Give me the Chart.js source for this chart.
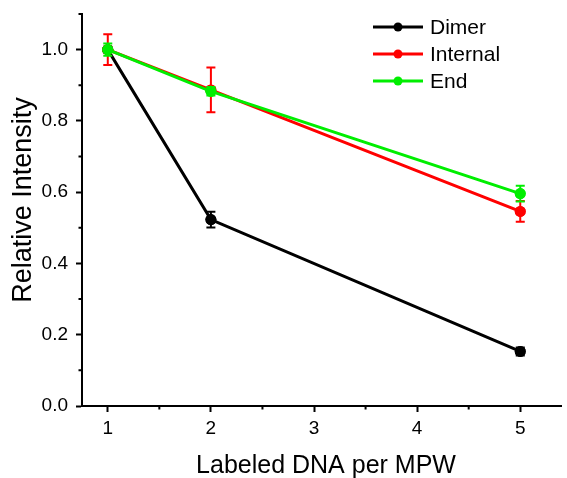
<!DOCTYPE html>
<html>
<head>
<meta charset="utf-8">
<script src="https://cdn.jsdelivr.net/npm/chart.js@4/dist/chart.umd.min.js"></script>
<style>
  html, body { margin: 0; padding: 0; background: #fff; }
  #wrap { width: 567px; height: 478px; }
</style>
</head>
<body>
<div id="wrap"><canvas id="lineChart" width="567" height="478"></canvas></div>
<script>
  // data
  const xValues = [1, 2, 5];
  const dimer = [1.0, 0.523, 0.153];
  const dimerErr = [0.008, 0.022, 0.011];
  const internal = [1.0, 0.887, 0.546];
  const internalErr = [0.043, 0.063, 0.029];
  const end = [1.0, 0.883, 0.596];
  const endErr = [0.017, 0.012, 0.022];

  const xTicks = [1, 2, 3, 4, 5];
  const yTicks = [0, 0.2, 0.4, 0.6, 0.8, 1.0];
  const seriesNames = ['Dimer', 'Internal', 'End'];
  const seriesColors = ['#000000', '#ff0000', '#00ee00'];

  const FONT = '"Liberation Sans", Arial, sans-serif';
  const toPoints = (ys) => xValues.map((x, i) => ({ x: x, y: ys[i] }));

  // error bars drawn through the chart's own scales
  const errorBars = {
    id: 'errorBars',
    afterDatasetDraw(chart, args) {
      const ds = chart.data.datasets[args.index];
      if (!ds.errors) return;
      const ctx = chart.ctx;
      const xs = chart.scales.x, ys = chart.scales.y;
      ctx.save();
      ctx.strokeStyle = ds.borderColor;
      ctx.lineWidth = 2;
      ds.data.forEach((p, i) => {
        const px = xs.getPixelForValue(p.x);
        const top = ys.getPixelForValue(p.y + ds.errors[i]);
        const bot = ys.getPixelForValue(p.y - ds.errors[i]);
        ctx.beginPath();
        ctx.moveTo(px, top); ctx.lineTo(px, bot);
        ctx.moveTo(px - 4.5, top); ctx.lineTo(px + 4.5, top);
        ctx.moveTo(px - 4.5, bot); ctx.lineTo(px + 4.5, bot);
        ctx.stroke();
      });
      // points back on top of the bars
      chart.getDatasetMeta(args.index).data.forEach(el => el.draw(ctx));
      ctx.restore();
    }
  };

  // minor ticks, axis titles and a line+dot legend
  const extras = {
    id: 'extras',
    afterDraw(chart) {
      const ctx = chart.ctx;
      const xs = chart.scales.x, ys = chart.scales.y;
      const area = chart.chartArea;
      ctx.save();
      ctx.strokeStyle = '#000';
      ctx.lineWidth = 2;
      ctx.beginPath();
      for (let v = 1.5; v < 5.4; v += 1) {
        const px = xs.getPixelForValue(v);
        ctx.moveTo(px, area.bottom); ctx.lineTo(px, area.bottom + 3.5);
      }
      for (let v = 0.1; v < 1.1; v += 0.2) {
        const py = ys.getPixelForValue(v);
        ctx.moveTo(area.left, py); ctx.lineTo(area.left - 3.5, py);
      }
      ctx.stroke();

      // axis titles
      ctx.fillStyle = '#000';
      ctx.textAlign = 'center';
      ctx.textBaseline = 'middle';
      ctx.font = '25px ' + FONT;
      ctx.fillText('Labeled DNA per MPW', 326, 466);
      ctx.save();
      ctx.translate(24, 200);
      ctx.rotate(-Math.PI / 2);
      ctx.font = '27px ' + FONT;
      ctx.fillText('Relative Intensity', 0, 0);
      ctx.restore();

      // legend
      ctx.textAlign = 'left';
      ctx.font = '21px ' + FONT;
      seriesNames.forEach((name, i) => {
        const y = 27 + i * 27;
        ctx.strokeStyle = seriesColors[i];
        ctx.lineWidth = 3;
        ctx.beginPath();
        ctx.moveTo(373, y); ctx.lineTo(423, y);
        ctx.stroke();
        ctx.fillStyle = seriesColors[i];
        ctx.beginPath();
        ctx.arc(398, y, 4.5, 0, Math.PI * 2);
        ctx.fill();
        ctx.fillStyle = '#000';
        ctx.fillText(name, 430, y + 1);
      });
      ctx.restore();
    }
  };

  const datasets = [dimer, internal, end].map((ys, i) => ({
    label: seriesNames[i],
    data: toPoints(ys),
    errors: [dimerErr, internalErr, endErr][i],
    borderColor: seriesColors[i],
    backgroundColor: seriesColors[i],
    borderWidth: 3,
    pointRadius: 5.5,
    pointBorderWidth: 0,
    tension: 0,
    order: 3 - i
  }));

  const tickFont = { family: FONT, size: 19 };

  new Chart(document.getElementById('lineChart').getContext('2d'), {
    type: 'line',
    data: { datasets: datasets },
    options: {
      responsive: false,
      animation: false,
      devicePixelRatio: 1,
      layout: { padding: { left: 0, right: 0, top: 14, bottom: 0 } },
      plugins: { legend: { display: false }, tooltip: { enabled: false } },
      scales: {
        x: {
          type: 'linear',
          min: 0.75,
          max: 5.40,
          afterBuildTicks: (s) => { s.ticks = xTicks.map(v => ({ value: v })); },
          afterFit: (s) => { s.height = 72; s.paddingLeft = 0; s.paddingRight = 0; },
          grid: { drawOnChartArea: false, drawTicks: true, tickLength: 6, tickWidth: 2, tickColor: '#000' },
          border: { display: true, color: '#000', width: 2 },
          ticks: { color: '#000', font: tickFont, padding: 5, maxRotation: 0 }
        },
        y: {
          min: 0,
          max: 1.1,
          afterBuildTicks: (s) => { s.ticks = yTicks.map(v => ({ value: v })); },
          afterFit: (s) => { s.width = 82; s.paddingTop = 0; s.paddingBottom = 0; },
          grid: { drawOnChartArea: false, drawTicks: true, tickLength: 6, tickWidth: 2, tickColor: '#000' },
          border: { display: true, color: '#000', width: 2 },
          ticks: { color: '#000', font: tickFont, padding: 8, callback: (v) => v.toFixed(1) }
        }
      }
    },
    plugins: [errorBars, extras]
  });
</script>
</body>
</html>
